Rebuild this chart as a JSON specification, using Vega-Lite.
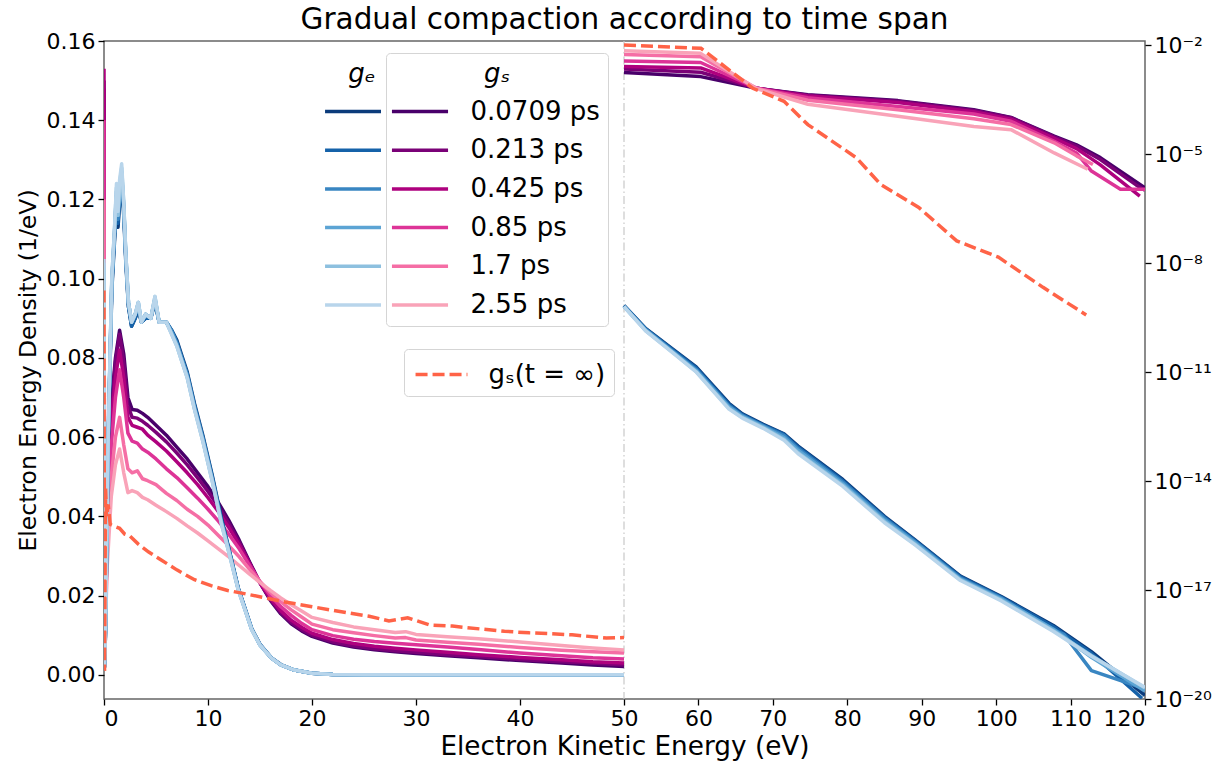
{
"$schema":"https://vega.github.io/schema/vega-lite/v6.json",
"width":1041,"height":658,
"autosize":{"type":"none"},
"padding":{"left":104,"top":41,"right":76,"bottom":67},
"background":"white",
"title":{"text":"Gradual compaction according to time span","fontSize":29.5,"font":"DejaVu Sans","fontWeight":"normal","color":"black","anchor":"middle","frame":"group","offset":-5},
"config":{
 "font":"DejaVu Sans",
 "view":{"stroke":"#666666","strokeWidth":1.5},
 "axis":{"domain":false,"grid":false,"ticks":true,"tickColor":"black","tickSize":6,"tickWidth":1.3,"labelFont":"DejaVu Sans","labelFontSize":22,"labelColor":"black","titleFont":"DejaVu Sans","titleFontSize":23.5,"titleFontWeight":"normal","titleColor":"black","labelPadding":3},
 "legend":{"labelFont":"DejaVu Sans","titleFont":"DejaVu Sans","labelColor":"black","titleColor":"black"}
},
"datasets":{
"gsL":[
{"s":"0.0709 ps","x":0,"v":0.150},{"s":"0.0709 ps","x":0.05,"v":0.003},{"s":"0.0709 ps","x":0.3,"v":0.040},{"s":"0.0709 ps","x":0.7,"v":0.068},{"s":"0.0709 ps","x":1.1,"v":0.080},{"s":"0.0709 ps","x":1.5,"v":0.087},{"s":"0.0709 ps","x":1.9,"v":0.081},{"s":"0.0709 ps","x":2.3,"v":0.070},{"s":"0.0709 ps","x":2.7,"v":0.067},{"s":"0.0709 ps","x":3.2,"v":0.0668},{"s":"0.0709 ps","x":3.7,"v":0.066},{"s":"0.0709 ps","x":4.2,"v":0.065},{"s":"0.0709 ps","x":5,"v":0.063},{"s":"0.0709 ps","x":6,"v":0.0605},{"s":"0.0709 ps","x":7,"v":0.0575},{"s":"0.0709 ps","x":8,"v":0.0545},{"s":"0.0709 ps","x":9,"v":0.051},{"s":"0.0709 ps","x":10,"v":0.0475},{"s":"0.0709 ps","x":11,"v":0.0435},{"s":"0.0709 ps","x":12,"v":0.039},{"s":"0.0709 ps","x":13,"v":0.034},{"s":"0.0709 ps","x":14,"v":0.0285},{"s":"0.0709 ps","x":15,"v":0.0232},{"s":"0.0709 ps","x":16,"v":0.0188},{"s":"0.0709 ps","x":17,"v":0.0154},{"s":"0.0709 ps","x":18,"v":0.0129},{"s":"0.0709 ps","x":19,"v":0.0111},{"s":"0.0709 ps","x":20,"v":0.0097},{"s":"0.0709 ps","x":22,"v":0.0080},{"s":"0.0709 ps","x":24,"v":0.0070},{"s":"0.0709 ps","x":26,"v":0.0063},{"s":"0.0709 ps","x":28,"v":0.0058},{"s":"0.0709 ps","x":30,"v":0.0054},{"s":"0.0709 ps","x":33,"v":0.0048},{"s":"0.0709 ps","x":36,"v":0.0043},{"s":"0.0709 ps","x":40,"v":0.0036},{"s":"0.0709 ps","x":44,"v":0.0030},{"s":"0.0709 ps","x":47,"v":0.0025},{"s":"0.0709 ps","x":50,"v":0.0021},
{"s":"0.213 ps","x":0,"v":0.148},{"s":"0.213 ps","x":0.05,"v":0.003},{"s":"0.213 ps","x":0.3,"v":0.039},{"s":"0.213 ps","x":0.7,"v":0.066},{"s":"0.213 ps","x":1.1,"v":0.079},{"s":"0.213 ps","x":1.5,"v":0.086},{"s":"0.213 ps","x":1.9,"v":0.079},{"s":"0.213 ps","x":2.3,"v":0.068},{"s":"0.213 ps","x":2.7,"v":0.065},{"s":"0.213 ps","x":3.2,"v":0.0648},{"s":"0.213 ps","x":3.7,"v":0.064},{"s":"0.213 ps","x":4.2,"v":0.063},{"s":"0.213 ps","x":5,"v":0.0612},{"s":"0.213 ps","x":6,"v":0.0588},{"s":"0.213 ps","x":7,"v":0.056},{"s":"0.213 ps","x":8,"v":0.053},{"s":"0.213 ps","x":9,"v":0.0497},{"s":"0.213 ps","x":10,"v":0.0463},{"s":"0.213 ps","x":11,"v":0.0425},{"s":"0.213 ps","x":12,"v":0.0382},{"s":"0.213 ps","x":13,"v":0.0335},{"s":"0.213 ps","x":14,"v":0.0283},{"s":"0.213 ps","x":15,"v":0.0232},{"s":"0.213 ps","x":16,"v":0.019},{"s":"0.213 ps","x":17,"v":0.0157},{"s":"0.213 ps","x":18,"v":0.0132},{"s":"0.213 ps","x":19,"v":0.0114},{"s":"0.213 ps","x":20,"v":0.0100},{"s":"0.213 ps","x":22,"v":0.0083},{"s":"0.213 ps","x":24,"v":0.0073},{"s":"0.213 ps","x":26,"v":0.0066},{"s":"0.213 ps","x":28,"v":0.0061},{"s":"0.213 ps","x":30,"v":0.0057},{"s":"0.213 ps","x":33,"v":0.0051},{"s":"0.213 ps","x":36,"v":0.0046},{"s":"0.213 ps","x":40,"v":0.0039},{"s":"0.213 ps","x":44,"v":0.0033},{"s":"0.213 ps","x":47,"v":0.0029},{"s":"0.213 ps","x":50,"v":0.0025},
{"s":"0.425 ps","x":0,"v":0.153},{"s":"0.425 ps","x":0.05,"v":0.003},{"s":"0.425 ps","x":0.3,"v":0.037},{"s":"0.425 ps","x":0.7,"v":0.063},{"s":"0.425 ps","x":1.1,"v":0.075},{"s":"0.425 ps","x":1.5,"v":0.082},{"s":"0.425 ps","x":1.9,"v":0.075},{"s":"0.425 ps","x":2.3,"v":0.065},{"s":"0.425 ps","x":2.7,"v":0.063},{"s":"0.425 ps","x":3.2,"v":0.0625},{"s":"0.425 ps","x":3.7,"v":0.062},{"s":"0.425 ps","x":4.2,"v":0.0605},{"s":"0.425 ps","x":5,"v":0.0588},{"s":"0.425 ps","x":6,"v":0.0565},{"s":"0.425 ps","x":7,"v":0.0538},{"s":"0.425 ps","x":8,"v":0.051},{"s":"0.425 ps","x":9,"v":0.048},{"s":"0.425 ps","x":10,"v":0.0447},{"s":"0.425 ps","x":11,"v":0.0412},{"s":"0.425 ps","x":12,"v":0.0372},{"s":"0.425 ps","x":13,"v":0.0328},{"s":"0.425 ps","x":14,"v":0.0280},{"s":"0.425 ps","x":15,"v":0.0232},{"s":"0.425 ps","x":16,"v":0.0193},{"s":"0.425 ps","x":17,"v":0.0162},{"s":"0.425 ps","x":18,"v":0.0138},{"s":"0.425 ps","x":19,"v":0.0120},{"s":"0.425 ps","x":20,"v":0.0105},{"s":"0.425 ps","x":22,"v":0.0089},{"s":"0.425 ps","x":24,"v":0.0079},{"s":"0.425 ps","x":26,"v":0.0072},{"s":"0.425 ps","x":28,"v":0.0067},{"s":"0.425 ps","x":30,"v":0.0063},{"s":"0.425 ps","x":33,"v":0.0057},{"s":"0.425 ps","x":36,"v":0.0051},{"s":"0.425 ps","x":40,"v":0.0044},{"s":"0.425 ps","x":44,"v":0.0038},{"s":"0.425 ps","x":47,"v":0.0033},{"s":"0.425 ps","x":50,"v":0.0030},
{"s":"0.85 ps","x":0,"v":0.140},{"s":"0.85 ps","x":0.05,"v":0.003},{"s":"0.85 ps","x":0.3,"v":0.035},{"s":"0.85 ps","x":0.7,"v":0.058},{"s":"0.85 ps","x":1.1,"v":0.070},{"s":"0.85 ps","x":1.5,"v":0.077},{"s":"0.85 ps","x":1.9,"v":0.070},{"s":"0.85 ps","x":2.3,"v":0.061},{"s":"0.85 ps","x":2.7,"v":0.059},{"s":"0.85 ps","x":3.2,"v":0.0585},{"s":"0.85 ps","x":3.7,"v":0.057},{"s":"0.85 ps","x":4.2,"v":0.0562},{"s":"0.85 ps","x":5,"v":0.0545},{"s":"0.85 ps","x":6,"v":0.052},{"s":"0.85 ps","x":7,"v":0.0498},{"s":"0.85 ps","x":8,"v":0.0472},{"s":"0.85 ps","x":9,"v":0.0446},{"s":"0.85 ps","x":10,"v":0.0418},{"s":"0.85 ps","x":11,"v":0.0388},{"s":"0.85 ps","x":12,"v":0.0355},{"s":"0.85 ps","x":13,"v":0.0318},{"s":"0.85 ps","x":14,"v":0.0276},{"s":"0.85 ps","x":15,"v":0.0235},{"s":"0.85 ps","x":16,"v":0.0200},{"s":"0.85 ps","x":17,"v":0.0172},{"s":"0.85 ps","x":18,"v":0.0150},{"s":"0.85 ps","x":19,"v":0.0130},{"s":"0.85 ps","x":20,"v":0.0114},{"s":"0.85 ps","x":22,"v":0.0099},{"s":"0.85 ps","x":24,"v":0.0090},{"s":"0.85 ps","x":26,"v":0.0084},{"s":"0.85 ps","x":28,"v":0.0080},{"s":"0.85 ps","x":30,"v":0.0076},{"s":"0.85 ps","x":33,"v":0.0070},{"s":"0.85 ps","x":36,"v":0.0064},{"s":"0.85 ps","x":40,"v":0.0055},{"s":"0.85 ps","x":44,"v":0.0048},{"s":"0.85 ps","x":47,"v":0.0043},{"s":"0.85 ps","x":50,"v":0.0040},
{"s":"1.7 ps","x":0,"v":0.120},{"s":"1.7 ps","x":0.05,"v":0.003},{"s":"1.7 ps","x":0.3,"v":0.030},{"s":"1.7 ps","x":0.7,"v":0.050},{"s":"1.7 ps","x":1.1,"v":0.060},{"s":"1.7 ps","x":1.5,"v":0.065},{"s":"1.7 ps","x":1.9,"v":0.058},{"s":"1.7 ps","x":2.3,"v":0.052},{"s":"1.7 ps","x":2.7,"v":0.051},{"s":"1.7 ps","x":3.2,"v":0.0515},{"s":"1.7 ps","x":3.7,"v":0.0495},{"s":"1.7 ps","x":4.2,"v":0.049},{"s":"1.7 ps","x":5,"v":0.048},{"s":"1.7 ps","x":6,"v":0.0458},{"s":"1.7 ps","x":7,"v":0.0440},{"s":"1.7 ps","x":8,"v":0.0418},{"s":"1.7 ps","x":9,"v":0.0400},{"s":"1.7 ps","x":10,"v":0.0378},{"s":"1.7 ps","x":11,"v":0.0352},{"s":"1.7 ps","x":12,"v":0.0326},{"s":"1.7 ps","x":13,"v":0.0298},{"s":"1.7 ps","x":14,"v":0.0266},{"s":"1.7 ps","x":15,"v":0.0236},{"s":"1.7 ps","x":16,"v":0.0208},{"s":"1.7 ps","x":17,"v":0.0184},{"s":"1.7 ps","x":18,"v":0.0164},{"s":"1.7 ps","x":19,"v":0.0146},{"s":"1.7 ps","x":20,"v":0.0128},{"s":"1.7 ps","x":22,"v":0.0114},{"s":"1.7 ps","x":24,"v":0.0106},{"s":"1.7 ps","x":26,"v":0.0099},{"s":"1.7 ps","x":28,"v":0.0093},{"s":"1.7 ps","x":29,"v":0.0094},{"s":"1.7 ps","x":30,"v":0.0088},{"s":"1.7 ps","x":33,"v":0.0082},{"s":"1.7 ps","x":36,"v":0.0077},{"s":"1.7 ps","x":40,"v":0.0069},{"s":"1.7 ps","x":44,"v":0.0062},{"s":"1.7 ps","x":47,"v":0.0058},{"s":"1.7 ps","x":50,"v":0.0055},
{"s":"2.55 ps","x":0,"v":0.100},{"s":"2.55 ps","x":0.05,"v":0.003},{"s":"2.55 ps","x":0.3,"v":0.027},{"s":"2.55 ps","x":0.7,"v":0.045},{"s":"2.55 ps","x":1.1,"v":0.053},{"s":"2.55 ps","x":1.5,"v":0.057},{"s":"2.55 ps","x":1.9,"v":0.051},{"s":"2.55 ps","x":2.3,"v":0.046},{"s":"2.55 ps","x":2.7,"v":0.0465},{"s":"2.55 ps","x":3.2,"v":0.046},{"s":"2.55 ps","x":3.7,"v":0.0448},{"s":"2.55 ps","x":4.2,"v":0.0442},{"s":"2.55 ps","x":5,"v":0.0428},{"s":"2.55 ps","x":6,"v":0.0412},{"s":"2.55 ps","x":7,"v":0.0395},{"s":"2.55 ps","x":8,"v":0.0376},{"s":"2.55 ps","x":9,"v":0.0358},{"s":"2.55 ps","x":10,"v":0.0338},{"s":"2.55 ps","x":11,"v":0.0318},{"s":"2.55 ps","x":12,"v":0.0298},{"s":"2.55 ps","x":13,"v":0.0276},{"s":"2.55 ps","x":14,"v":0.0254},{"s":"2.55 ps","x":15,"v":0.0233},{"s":"2.55 ps","x":16,"v":0.0213},{"s":"2.55 ps","x":17,"v":0.0194},{"s":"2.55 ps","x":18,"v":0.0177},{"s":"2.55 ps","x":19,"v":0.0161},{"s":"2.55 ps","x":20,"v":0.0145},{"s":"2.55 ps","x":22,"v":0.0132},{"s":"2.55 ps","x":24,"v":0.0121},{"s":"2.55 ps","x":26,"v":0.0114},{"s":"2.55 ps","x":28,"v":0.0107},{"s":"2.55 ps","x":29,"v":0.0109},{"s":"2.55 ps","x":30,"v":0.0102},{"s":"2.55 ps","x":33,"v":0.0096},{"s":"2.55 ps","x":36,"v":0.0091},{"s":"2.55 ps","x":40,"v":0.0083},{"s":"2.55 ps","x":44,"v":0.0074},{"s":"2.55 ps","x":47,"v":0.0068},{"s":"2.55 ps","x":50,"v":0.0063}
],
"geL":[
{"s":"t1","x":0,"v":0.100},{"s":"t1","x":0.05,"v":0.002},{"s":"t1","x":0.15,"v":0.011},{"s":"t1","x":0.4,"v":0.058},{"s":"t1","x":0.75,"v":0.097},{"s":"t1","x":1.0,"v":0.109},{"s":"t1","x":1.2,"v":0.118},{"s":"t1","x":1.35,"v":0.113},{"s":"t1","x":1.5,"v":0.119},{"s":"t1","x":1.7,"v":0.124},{"s":"t1","x":1.9,"v":0.116},{"s":"t1","x":2.1,"v":0.104},{"s":"t1","x":2.35,"v":0.093},{"s":"t1","x":2.65,"v":0.088},{"s":"t1","x":3.0,"v":0.090},{"s":"t1","x":3.3,"v":0.092},{"s":"t1","x":3.6,"v":0.089},{"s":"t1","x":4.0,"v":0.090},{"s":"t1","x":4.5,"v":0.090},{"s":"t1","x":4.9,"v":0.094},{"s":"t1","x":5.3,"v":0.089},{"s":"t1","x":6.0,"v":0.089},{"s":"t1","x":6.5,"v":0.087},{"s":"t1","x":7.0,"v":0.0845},{"s":"t1","x":7.5,"v":0.0805},{"s":"t1","x":8.0,"v":0.0765},{"s":"t1","x":8.7,"v":0.0685},{"s":"t1","x":9.5,"v":0.0605},{"s":"t1","x":10.4,"v":0.0505},{"s":"t1","x":11.3,"v":0.0395},{"s":"t1","x":12.0,"v":0.032},{"s":"t1","x":12.9,"v":0.022},{"s":"t1","x":14.2,"v":0.0117},{"s":"t1","x":15.0,"v":0.0077},{"s":"t1","x":16.1,"v":0.0043},{"s":"t1","x":17.0,"v":0.0026},{"s":"t1","x":18.3,"v":0.0012},{"s":"t1","x":20,"v":0.0004},{"s":"t1","x":22,"v":0.0001},{"s":"t1","x":25,"v":0},{"s":"t1","x":50,"v":0},
{"s":"t2","x":0,"v":0.101},{"s":"t2","x":0.05,"v":0.002},{"s":"t2","x":0.15,"v":0.011},{"s":"t2","x":0.4,"v":0.058},{"s":"t2","x":0.75,"v":0.098},{"s":"t2","x":1.0,"v":0.110},{"s":"t2","x":1.2,"v":0.120},{"s":"t2","x":1.35,"v":0.114},{"s":"t2","x":1.5,"v":0.121},{"s":"t2","x":1.7,"v":0.125},{"s":"t2","x":1.9,"v":0.117},{"s":"t2","x":2.1,"v":0.105},{"s":"t2","x":2.35,"v":0.093},{"s":"t2","x":2.65,"v":0.088},{"s":"t2","x":3.0,"v":0.090},{"s":"t2","x":3.3,"v":0.093},{"s":"t2","x":3.6,"v":0.089},{"s":"t2","x":4.0,"v":0.090},{"s":"t2","x":4.5,"v":0.090},{"s":"t2","x":4.9,"v":0.0945},{"s":"t2","x":5.3,"v":0.089},{"s":"t2","x":6.0,"v":0.089},{"s":"t2","x":6.5,"v":0.087},{"s":"t2","x":7.0,"v":0.084},{"s":"t2","x":7.5,"v":0.080},{"s":"t2","x":8.0,"v":0.076},{"s":"t2","x":8.7,"v":0.068},{"s":"t2","x":9.5,"v":0.060},{"s":"t2","x":10.4,"v":0.050},{"s":"t2","x":11.3,"v":0.039},{"s":"t2","x":12.0,"v":0.0318},{"s":"t2","x":12.9,"v":0.0219},{"s":"t2","x":14.2,"v":0.0116},{"s":"t2","x":15.0,"v":0.0076},{"s":"t2","x":16.1,"v":0.0043},{"s":"t2","x":17.0,"v":0.0025},{"s":"t2","x":18.3,"v":0.0012},{"s":"t2","x":20,"v":0.0004},{"s":"t2","x":22,"v":0.0001},{"s":"t2","x":25,"v":0},{"s":"t2","x":50,"v":0},
{"s":"t3","x":0,"v":0.102},{"s":"t3","x":0.05,"v":0.002},{"s":"t3","x":0.15,"v":0.012},{"s":"t3","x":0.4,"v":0.059},{"s":"t3","x":0.75,"v":0.099},{"s":"t3","x":1.0,"v":0.111},{"s":"t3","x":1.2,"v":0.121},{"s":"t3","x":1.35,"v":0.115},{"s":"t3","x":1.5,"v":0.122},{"s":"t3","x":1.7,"v":0.126},{"s":"t3","x":1.9,"v":0.118},{"s":"t3","x":2.1,"v":0.105},{"s":"t3","x":2.35,"v":0.094},{"s":"t3","x":2.65,"v":0.089},{"s":"t3","x":3.0,"v":0.091},{"s":"t3","x":3.3,"v":0.093},{"s":"t3","x":3.6,"v":0.089},{"s":"t3","x":4.0,"v":0.091},{"s":"t3","x":4.5,"v":0.090},{"s":"t3","x":4.9,"v":0.095},{"s":"t3","x":5.3,"v":0.089},{"s":"t3","x":6.0,"v":0.089},{"s":"t3","x":6.5,"v":0.0868},{"s":"t3","x":7.0,"v":0.0838},{"s":"t3","x":7.5,"v":0.0798},{"s":"t3","x":8.0,"v":0.0758},{"s":"t3","x":8.7,"v":0.0678},{"s":"t3","x":9.5,"v":0.0598},{"s":"t3","x":10.4,"v":0.0498},{"s":"t3","x":11.3,"v":0.0388},{"s":"t3","x":12.0,"v":0.0316},{"s":"t3","x":12.9,"v":0.0218},{"s":"t3","x":14.2,"v":0.0115},{"s":"t3","x":15.0,"v":0.0076},{"s":"t3","x":16.1,"v":0.0042},{"s":"t3","x":17.0,"v":0.0025},{"s":"t3","x":18.3,"v":0.0012},{"s":"t3","x":20,"v":0.0004},{"s":"t3","x":22,"v":0.0001},{"s":"t3","x":25,"v":0},{"s":"t3","x":50,"v":0},
{"s":"t4","x":0,"v":0.103},{"s":"t4","x":0.05,"v":0.002},{"s":"t4","x":0.15,"v":0.012},{"s":"t4","x":0.4,"v":0.059},{"s":"t4","x":0.75,"v":0.099},{"s":"t4","x":1.0,"v":0.111},{"s":"t4","x":1.2,"v":0.122},{"s":"t4","x":1.35,"v":0.116},{"s":"t4","x":1.5,"v":0.123},{"s":"t4","x":1.7,"v":0.127},{"s":"t4","x":1.9,"v":0.118},{"s":"t4","x":2.1,"v":0.106},{"s":"t4","x":2.35,"v":0.094},{"s":"t4","x":2.65,"v":0.089},{"s":"t4","x":3.0,"v":0.091},{"s":"t4","x":3.3,"v":0.094},{"s":"t4","x":3.6,"v":0.089},{"s":"t4","x":4.0,"v":0.091},{"s":"t4","x":4.5,"v":0.090},{"s":"t4","x":4.9,"v":0.095},{"s":"t4","x":5.3,"v":0.089},{"s":"t4","x":6.0,"v":0.089},{"s":"t4","x":6.5,"v":0.0864},{"s":"t4","x":7.0,"v":0.0834},{"s":"t4","x":7.5,"v":0.0794},{"s":"t4","x":8.0,"v":0.0754},{"s":"t4","x":8.7,"v":0.0674},{"s":"t4","x":9.5,"v":0.0594},{"s":"t4","x":10.4,"v":0.0494},{"s":"t4","x":11.3,"v":0.0384},{"s":"t4","x":12.0,"v":0.0313},{"s":"t4","x":12.9,"v":0.0217},{"s":"t4","x":14.2,"v":0.0115},{"s":"t4","x":15.0,"v":0.0075},{"s":"t4","x":16.1,"v":0.0042},{"s":"t4","x":17.0,"v":0.0025},{"s":"t4","x":18.3,"v":0.0012},{"s":"t4","x":20,"v":0.0004},{"s":"t4","x":22,"v":0.0001},{"s":"t4","x":25,"v":0},{"s":"t4","x":50,"v":0},
{"s":"t5","x":0,"v":0.104},{"s":"t5","x":0.05,"v":0.002},{"s":"t5","x":0.15,"v":0.012},{"s":"t5","x":0.4,"v":0.06},{"s":"t5","x":0.75,"v":0.1},{"s":"t5","x":1.0,"v":0.112},{"s":"t5","x":1.2,"v":0.123},{"s":"t5","x":1.35,"v":0.116},{"s":"t5","x":1.5,"v":0.124},{"s":"t5","x":1.7,"v":0.128},{"s":"t5","x":1.9,"v":0.119},{"s":"t5","x":2.1,"v":0.106},{"s":"t5","x":2.35,"v":0.094},{"s":"t5","x":2.65,"v":0.089},{"s":"t5","x":3.0,"v":0.091},{"s":"t5","x":3.3,"v":0.094},{"s":"t5","x":3.6,"v":0.089},{"s":"t5","x":4.0,"v":0.091},{"s":"t5","x":4.5,"v":0.090},{"s":"t5","x":4.9,"v":0.0955},{"s":"t5","x":5.3,"v":0.089},{"s":"t5","x":6.0,"v":0.089},{"s":"t5","x":6.5,"v":0.086},{"s":"t5","x":7.0,"v":0.083},{"s":"t5","x":7.5,"v":0.079},{"s":"t5","x":8.0,"v":0.075},{"s":"t5","x":8.7,"v":0.067},{"s":"t5","x":9.5,"v":0.059},{"s":"t5","x":10.4,"v":0.049},{"s":"t5","x":11.3,"v":0.038},{"s":"t5","x":12.0,"v":0.031},{"s":"t5","x":12.9,"v":0.0215},{"s":"t5","x":14.2,"v":0.0114},{"s":"t5","x":15.0,"v":0.0075},{"s":"t5","x":16.1,"v":0.0042},{"s":"t5","x":17.0,"v":0.0025},{"s":"t5","x":18.3,"v":0.0012},{"s":"t5","x":20,"v":0.0004},{"s":"t5","x":22,"v":0.0001},{"s":"t5","x":25,"v":0},{"s":"t5","x":50,"v":0},
{"s":"t6","x":0,"v":0.105},{"s":"t6","x":0.05,"v":0.002},{"s":"t6","x":0.15,"v":0.012},{"s":"t6","x":0.4,"v":0.06},{"s":"t6","x":0.75,"v":0.1},{"s":"t6","x":1.0,"v":0.112},{"s":"t6","x":1.2,"v":0.124},{"s":"t6","x":1.35,"v":0.117},{"s":"t6","x":1.5,"v":0.125},{"s":"t6","x":1.7,"v":0.129},{"s":"t6","x":1.9,"v":0.119},{"s":"t6","x":2.1,"v":0.106},{"s":"t6","x":2.35,"v":0.094},{"s":"t6","x":2.65,"v":0.089},{"s":"t6","x":3.0,"v":0.091},{"s":"t6","x":3.3,"v":0.094},{"s":"t6","x":3.6,"v":0.089},{"s":"t6","x":4.0,"v":0.091},{"s":"t6","x":4.5,"v":0.090},{"s":"t6","x":4.9,"v":0.0955},{"s":"t6","x":5.3,"v":0.089},{"s":"t6","x":6.0,"v":0.089},{"s":"t6","x":6.5,"v":0.086},{"s":"t6","x":7.0,"v":0.083},{"s":"t6","x":7.5,"v":0.079},{"s":"t6","x":8.0,"v":0.075},{"s":"t6","x":8.7,"v":0.067},{"s":"t6","x":9.5,"v":0.059},{"s":"t6","x":10.4,"v":0.049},{"s":"t6","x":11.3,"v":0.038},{"s":"t6","x":12.0,"v":0.031},{"s":"t6","x":12.9,"v":0.0215},{"s":"t6","x":14.2,"v":0.0114},{"s":"t6","x":15.0,"v":0.0075},{"s":"t6","x":16.1,"v":0.0042},{"s":"t6","x":17.0,"v":0.0025},{"s":"t6","x":18.3,"v":0.0012},{"s":"t6","x":20,"v":0.0004},{"s":"t6","x":22,"v":0.0001},{"s":"t6","x":25,"v":0},{"s":"t6","x":50,"v":0}
],
"infL":[
{"s":"gₛ(t = ∞)","x":0,"v":0.097},{"s":"gₛ(t = ∞)","x":0.05,"v":0.001},{"s":"gₛ(t = ∞)","x":0.15,"v":0.047},{"s":"gₛ(t = ∞)","x":0.25,"v":0.040},{"s":"gₛ(t = ∞)","x":0.4,"v":0.043},{"s":"gₛ(t = ∞)","x":0.6,"v":0.038},{"s":"gₛ(t = ∞)","x":1.0,"v":0.0375},{"s":"gₛ(t = ∞)","x":1.5,"v":0.037},{"s":"gₛ(t = ∞)","x":2.0,"v":0.0355},{"s":"gₛ(t = ∞)","x":2.5,"v":0.035},{"s":"gₛ(t = ∞)","x":3.3,"v":0.033},{"s":"gₛ(t = ∞)","x":4.3,"v":0.031},{"s":"gₛ(t = ∞)","x":5.5,"v":0.029},{"s":"gₛ(t = ∞)","x":7.0,"v":0.0265},{"s":"gₛ(t = ∞)","x":8.7,"v":0.024},{"s":"gₛ(t = ∞)","x":10.3,"v":0.0225},{"s":"gₛ(t = ∞)","x":11.9,"v":0.0213},{"s":"gₛ(t = ∞)","x":13.5,"v":0.0205},{"s":"gₛ(t = ∞)","x":15.2,"v":0.0196},{"s":"gₛ(t = ∞)","x":17.4,"v":0.0184},{"s":"gₛ(t = ∞)","x":20,"v":0.0172},{"s":"gₛ(t = ∞)","x":23.3,"v":0.0157},{"s":"gₛ(t = ∞)","x":25.5,"v":0.0148},{"s":"gₛ(t = ∞)","x":27.4,"v":0.0136},{"s":"gₛ(t = ∞)","x":29.2,"v":0.0144},{"s":"gₛ(t = ∞)","x":31.3,"v":0.0126},{"s":"gₛ(t = ∞)","x":33.5,"v":0.0123},{"s":"gₛ(t = ∞)","x":36.1,"v":0.0116},{"s":"gₛ(t = ∞)","x":38.5,"v":0.011},{"s":"gₛ(t = ∞)","x":40.9,"v":0.0106},{"s":"gₛ(t = ∞)","x":43,"v":0.0104},{"s":"gₛ(t = ∞)","x":45,"v":0.0101},{"s":"gₛ(t = ∞)","x":48.3,"v":0.0093},{"s":"gₛ(t = ∞)","x":50,"v":0.0094}
],
"gsR":[
{"s":"0.0709 ps","x":50,"v":1.74e-3},{"s":"0.0709 ps","x":60.3,"v":1.35e-3},{"s":"0.0709 ps","x":67.8,"v":6.46e-4},{"s":"0.0709 ps","x":74.7,"v":4.27e-4},{"s":"0.0709 ps","x":86.8,"v":2.95e-4},{"s":"0.0709 ps","x":97,"v":1.66e-4},{"s":"0.0709 ps","x":102,"v":1.02e-4},{"s":"0.0709 ps","x":107.8,"v":3.09e-5},{"s":"0.0709 ps","x":110.8,"v":1.78e-5},{"s":"0.0709 ps","x":114,"v":7.94e-6},{"s":"0.0709 ps","x":120,"v":1.17e-6},
{"s":"0.213 ps","x":50,"v":2.19e-3},{"s":"0.213 ps","x":60.3,"v":1.78e-3},{"s":"0.213 ps","x":67.8,"v":6.46e-4},{"s":"0.213 ps","x":74.7,"v":4.17e-4},{"s":"0.213 ps","x":86.8,"v":2.82e-4},{"s":"0.213 ps","x":97,"v":1.58e-4},{"s":"0.213 ps","x":102,"v":1.0e-4},{"s":"0.213 ps","x":107.8,"v":2.95e-5},{"s":"0.213 ps","x":110.8,"v":1.66e-5},{"s":"0.213 ps","x":114,"v":7.08e-6},{"s":"0.213 ps","x":118.8,"v":1.41e-6},{"s":"0.213 ps","x":120,"v":1.0e-6},
{"s":"0.425 ps","x":50,"v":2.57e-3},{"s":"0.425 ps","x":60.3,"v":2.34e-3},{"s":"0.425 ps","x":67.8,"v":6.46e-4},{"s":"0.425 ps","x":74.7,"v":3.98e-4},{"s":"0.425 ps","x":86.8,"v":2.63e-4},{"s":"0.425 ps","x":97,"v":1.45e-4},{"s":"0.425 ps","x":102,"v":9.12e-5},{"s":"0.425 ps","x":107.8,"v":2.69e-5},{"s":"0.425 ps","x":110.8,"v":1.41e-5},{"s":"0.425 ps","x":114,"v":5.01e-6},{"s":"0.425 ps","x":119.3,"v":6.92e-7},
{"s":"0.85 ps","x":50,"v":3.63e-3},{"s":"0.85 ps","x":60.3,"v":3.31e-3},{"s":"0.85 ps","x":67.8,"v":6.46e-4},{"s":"0.85 ps","x":74.7,"v":3.55e-4},{"s":"0.85 ps","x":86.8,"v":2.04e-4},{"s":"0.85 ps","x":97,"v":1.26e-4},{"s":"0.85 ps","x":102,"v":7.94e-5},{"s":"0.85 ps","x":107.8,"v":2.24e-5},{"s":"0.85 ps","x":110.8,"v":1.07e-5},{"s":"0.85 ps","x":112.8,"v":3.39e-6},{"s":"0.85 ps","x":116.7,"v":1.07e-6},{"s":"0.85 ps","x":120,"v":1.07e-6},
{"s":"1.7 ps","x":50,"v":5.50e-3},{"s":"1.7 ps","x":60.3,"v":4.79e-3},{"s":"1.7 ps","x":67.8,"v":6.46e-4},{"s":"1.7 ps","x":74.7,"v":3.02e-4},{"s":"1.7 ps","x":86.8,"v":1.66e-4},{"s":"1.7 ps","x":97,"v":9.33e-5},{"s":"1.7 ps","x":102,"v":6.46e-5},{"s":"1.7 ps","x":107.8,"v":2.04e-5},{"s":"1.7 ps","x":110.8,"v":8.91e-6},{"s":"1.7 ps","x":113,"v":5.13e-6},
{"s":"2.55 ps","x":50,"v":6.92e-3},{"s":"2.55 ps","x":60.3,"v":5.89e-3},{"s":"2.55 ps","x":67.8,"v":6.31e-4},{"s":"2.55 ps","x":74.7,"v":2.34e-4},{"s":"2.55 ps","x":86.8,"v":1.10e-4},{"s":"2.55 ps","x":97,"v":5.75e-5},{"s":"2.55 ps","x":102,"v":4.68e-5},{"s":"2.55 ps","x":107.8,"v":1.07e-5},{"s":"2.55 ps","x":112.3,"v":3.80e-6}
],
"geR":[
{"s":"t1","x":50,"v":6.76e-10},{"s":"t1","x":52.9,"v":1.585e-10},{"s":"t1","x":56.6,"v":4.17e-11},{"s":"t1","x":59.7,"v":1.38e-11},{"s":"t1","x":64.1,"v":1.38e-12},{"s":"t1","x":65.9,"v":7.08e-13},{"s":"t1","x":68.7,"v":3.63e-13},{"s":"t1","x":71.5,"v":2.0e-13},{"s":"t1","x":73.4,"v":9.12e-14},{"s":"t1","x":79.4,"v":1.10e-14},{"s":"t1","x":85.0,"v":1.07e-15},{"s":"t1","x":89.1,"v":2.40e-16},{"s":"t1","x":95.2,"v":2.40e-17},{"s":"t1","x":100.7,"v":6.61e-18},{"s":"t1","x":107.7,"v":1.05e-18},{"s":"t1","x":112.8,"v":2.0e-19},{"s":"t1","x":120,"v":1.26e-20},
{"s":"t2","x":50,"v":6.61e-10},{"s":"t2","x":52.9,"v":1.55e-10},{"s":"t2","x":56.6,"v":3.98e-11},{"s":"t2","x":59.7,"v":1.29e-11},{"s":"t2","x":64.1,"v":1.29e-12},{"s":"t2","x":65.9,"v":6.76e-13},{"s":"t2","x":68.7,"v":3.47e-13},{"s":"t2","x":71.5,"v":1.91e-13},{"s":"t2","x":73.4,"v":8.51e-14},{"s":"t2","x":79.4,"v":1.02e-14},{"s":"t2","x":85.0,"v":1.0e-15},{"s":"t2","x":89.1,"v":2.29e-16},{"s":"t2","x":95.2,"v":2.29e-17},{"s":"t2","x":100.7,"v":6.31e-18},{"s":"t2","x":107.7,"v":9.77e-19},{"s":"t2","x":112.8,"v":1.82e-19},{"s":"t2","x":119.6,"v":1.05e-20},
{"s":"t3","x":50,"v":6.46e-10},{"s":"t3","x":52.9,"v":1.48e-10},{"s":"t3","x":56.6,"v":3.72e-11},{"s":"t3","x":59.7,"v":1.17e-11},{"s":"t3","x":64.1,"v":1.17e-12},{"s":"t3","x":65.9,"v":6.31e-13},{"s":"t3","x":68.7,"v":3.31e-13},{"s":"t3","x":71.5,"v":1.78e-13},{"s":"t3","x":73.4,"v":7.76e-14},{"s":"t3","x":79.4,"v":9.33e-15},{"s":"t3","x":85.0,"v":9.33e-16},{"s":"t3","x":89.1,"v":2.14e-16},{"s":"t3","x":95.2,"v":2.14e-17},{"s":"t3","x":100.7,"v":6.03e-18},{"s":"t3","x":107.7,"v":7.94e-19},{"s":"t3","x":109.1,"v":6.03e-19},{"s":"t3","x":112.8,"v":6.03e-20},{"s":"t3","x":120,"v":1.91e-20},
{"s":"t4","x":50,"v":6.46e-10},{"s":"t4","x":52.9,"v":1.45e-10},{"s":"t4","x":56.6,"v":3.55e-11},{"s":"t4","x":59.7,"v":1.10e-11},{"s":"t4","x":64.1,"v":1.10e-12},{"s":"t4","x":65.9,"v":6.03e-13},{"s":"t4","x":68.7,"v":3.16e-13},{"s":"t4","x":71.5,"v":1.58e-13},{"s":"t4","x":73.4,"v":6.92e-14},{"s":"t4","x":79.4,"v":8.32e-15},{"s":"t4","x":85.0,"v":8.32e-16},{"s":"t4","x":89.1,"v":2.0e-16},{"s":"t4","x":95.2,"v":2.0e-17},{"s":"t4","x":100.7,"v":5.62e-18},{"s":"t4","x":107.7,"v":8.32e-19},{"s":"t4","x":112.8,"v":1.41e-19},{"s":"t4","x":120,"v":1.66e-20},
{"s":"t5","x":50,"v":6.31e-10},{"s":"t5","x":52.9,"v":1.38e-10},{"s":"t5","x":56.6,"v":3.39e-11},{"s":"t5","x":59.7,"v":1.02e-11},{"s":"t5","x":64.1,"v":1.0e-12},{"s":"t5","x":65.9,"v":5.62e-13},{"s":"t5","x":68.7,"v":2.95e-13},{"s":"t5","x":71.5,"v":1.41e-13},{"s":"t5","x":73.4,"v":6.03e-14},{"s":"t5","x":79.4,"v":7.59e-15},{"s":"t5","x":85.0,"v":7.59e-16},{"s":"t5","x":89.1,"v":1.82e-16},{"s":"t5","x":95.2,"v":1.91e-17},{"s":"t5","x":100.7,"v":5.25e-18},{"s":"t5","x":107.7,"v":7.59e-19},{"s":"t5","x":112.8,"v":1.58e-19},{"s":"t5","x":120,"v":2.0e-20},
{"s":"t6","x":50,"v":6.31e-10},{"s":"t6","x":52.9,"v":1.35e-10},{"s":"t6","x":56.6,"v":3.31e-11},{"s":"t6","x":59.7,"v":1.0e-11},{"s":"t6","x":64.1,"v":9.55e-13},{"s":"t6","x":65.9,"v":5.37e-13},{"s":"t6","x":68.7,"v":2.82e-13},{"s":"t6","x":71.5,"v":1.32e-13},{"s":"t6","x":73.4,"v":5.62e-14},{"s":"t6","x":79.4,"v":7.08e-15},{"s":"t6","x":85.0,"v":7.08e-16},{"s":"t6","x":89.1,"v":1.74e-16},{"s":"t6","x":95.2,"v":1.82e-17},{"s":"t6","x":100.7,"v":5.01e-18},{"s":"t6","x":107.7,"v":7.24e-19},{"s":"t6","x":112.8,"v":1.51e-19},{"s":"t6","x":120,"v":2.09e-20}
],
"infR":[
{"s":"gₛ(t = ∞)","x":50,"v":1.0e-2},{"s":"gₛ(t = ∞)","x":60.35,"v":8.13e-3},{"s":"gₛ(t = ∞)","x":67.3,"v":6.46e-4},{"s":"gₛ(t = ∞)","x":71.5,"v":2.82e-4},{"s":"gₛ(t = ∞)","x":74.7,"v":6.46e-5},{"s":"gₛ(t = ∞)","x":81.2,"v":7.94e-6},{"s":"gₛ(t = ∞)","x":84.5,"v":1.45e-6},{"s":"gₛ(t = ∞)","x":89.6,"v":3.39e-7},{"s":"gₛ(t = ∞)","x":94.7,"v":4.07e-8},{"s":"gₛ(t = ∞)","x":100.3,"v":1.45e-8},{"s":"gₛ(t = ∞)","x":106.3,"v":2.14e-9},{"s":"gₛ(t = ∞)","x":112.1,"v":3.72e-10}
]
},
"layer":[
 {"layer":[
  {"data":{"values":[{"x":50}]},"mark":{"type":"rule","color":"#c8c8c8","strokeWidth":1.2,"strokeDash":[8,3,1.5,3]},
   "encoding":{"x":{"field":"x","type":"quantitative","scale":{"domain":[0,50,120],"range":[0,520,1041],"nice":false,"zero":false},"axis":{"values":[0,10,20,30,40,50,60,70,80,90,100,110,120],"format":"d","title":"Electron Kinetic Energy (eV)","titleFontSize":26.3,"titlePadding":4}}}},
  {"data":{"name":"gsL"},"mark":{"type":"line","strokeWidth":3.5,"strokeJoin":"round","clip":true},
   "encoding":{"x":{"field":"x","type":"quantitative","scale":{"domain":[0,50,120],"range":[0,520,1041],"nice":false,"zero":false},"axis":{"values":[0,10,20,30,40,50,60,70,80,90,100,110,120],"format":"d","title":"Electron Kinetic Energy (eV)","titleFontSize":26.3,"titlePadding":4}},
    "y":{"field":"v","type":"quantitative","scale":{"domain":[-0.0061,0.16],"nice":false,"zero":false},"axis":{"orient":"left","values":[0,0.02,0.04,0.06,0.08,0.1,0.12,0.14,0.16],"format":".2f","title":"Electron Energy Density (1/eV)","titlePadding":6}},
    "stroke":{"field":"s","type":"nominal","scale":{"domain":["0.0709 ps","0.213 ps","0.425 ps","0.85 ps","1.7 ps","2.55 ps"],"range":["#49006a","#7a0177","#ae017e","#dd3497","#f56ea5","#f9a3b8"]},
      "legend":{"title":"gₛ","orient":"none","legendX":282,"legendY":12,"strokeColor":"#d5d5d5","cornerRadius":4,"padding":8,"fillColor":"white","symbolType":"M-1.27,0H2.47","symbolSize":900,"symbolStrokeWidth":3.5,"labelFontSize":26,"labelOffset":42.5,"titleFontSize":26,"titleFontStyle":"italic","titleFontWeight":"normal","titleAnchor":"middle","rowPadding":8.7,"titlePadding":7.5}}}},
  {"data":{"name":"geL"},"mark":{"type":"line","strokeWidth":3.5,"strokeJoin":"round","clip":true},
   "encoding":{"x":{"field":"x","type":"quantitative","scale":{"domain":[0,50,120],"range":[0,520,1041],"nice":false,"zero":false},"axis":{"values":[0,10,20,30,40,50,60,70,80,90,100,110,120],"format":"d","title":"Electron Kinetic Energy (eV)","titleFontSize":26.3,"titlePadding":4}},
    "y":{"field":"v","type":"quantitative","scale":{"domain":[-0.0061,0.16],"nice":false,"zero":false},"axis":{"orient":"left","values":[0,0.02,0.04,0.06,0.08,0.1,0.12,0.14,0.16],"format":".2f","title":"Electron Energy Density (1/eV)","titlePadding":6}},
    "color":{"field":"s","type":"nominal","scale":{"domain":["t1","t2","t3","t4","t5","t6"],"range":["#0b3b7b","#1562a9","#3986c2","#5ca4d4","#8dc0df","#b8d5eb"]},
      "legend":{"title":"gₑ","orient":"none","legendX":221,"legendY":20,"padding":0,"symbolType":"M-1.13,0H2.6","symbolSize":900,"symbolStrokeWidth":3.5,"labelExpr":"''","labelOffset":40,"labelFontSize":26,"titleFontSize":26,"titleFontStyle":"italic","titleFontWeight":"normal","titleAnchor":"middle","titleAlign":"center","rowPadding":8.7,"titlePadding":7.5}}}},
  {"data":{"name":"infL"},"mark":{"type":"line","strokeWidth":3.5,"color":"#ff6347","clip":true},
   "encoding":{"x":{"field":"x","type":"quantitative","scale":{"domain":[0,50,120],"range":[0,520,1041],"nice":false,"zero":false},"axis":{"values":[0,10,20,30,40,50,60,70,80,90,100,110,120],"format":"d","title":"Electron Kinetic Energy (eV)","titleFontSize":26.3,"titlePadding":4}},
    "y":{"field":"v","type":"quantitative","scale":{"domain":[-0.0061,0.16],"nice":false,"zero":false},"axis":{"orient":"left","values":[0,0.02,0.04,0.06,0.08,0.1,0.12,0.14,0.16],"format":".2f","title":"Electron Energy Density (1/eV)","titlePadding":6}},
    "strokeDash":{"field":"s","type":"nominal","scale":{"domain":["gₛ(t = ∞)"],"range":[[12,5]]},
      "legend":{"title":null,"orient":"none","legendX":300,"legendY":308,"strokeColor":"#d5d5d5","cornerRadius":4,"padding":8.5,"fillColor":"white","symbolType":"M-0.93,0H2.53","symbolSize":900,"symbolStrokeWidth":3.5,"symbolStrokeColor":"#ff6347","labelFontSize":26,"labelOffset":42}}}}
 ]},
 {"layer":[
  {"data":{"name":"gsR"},"mark":{"type":"line","strokeWidth":3.5,"strokeJoin":"round","clip":true},
   "encoding":{"x":{"field":"x","type":"quantitative","scale":{"domain":[0,50,120],"range":[0,520,1041],"nice":false,"zero":false},"axis":{"values":[0,10,20,30,40,50,60,70,80,90,100,110,120],"format":"d","title":"Electron Kinetic Energy (eV)","titleFontSize":26.3,"titlePadding":4}},
    "y":{"field":"v","type":"quantitative","scale":{"type":"log","domain":[1e-20,0.0129],"nice":false},"axis":{"orient":"right","values":[1e-2,1e-5,1e-8,1e-11,1e-14,1e-17,1e-20],"labelExpr":"datum.value > 1e-3 ? '10⁻²' : datum.value > 1e-6 ? '10⁻⁵' : datum.value > 1e-9 ? '10⁻⁸' : datum.value > 1e-12 ? '10⁻¹¹' : datum.value > 1e-15 ? '10⁻¹⁴' : datum.value > 1e-18 ? '10⁻¹⁷' : '10⁻²⁰'","title":null}},
    "stroke":{"field":"s","type":"nominal","scale":{"domain":["0.0709 ps","0.213 ps","0.425 ps","0.85 ps","1.7 ps","2.55 ps"],"range":["#49006a","#7a0177","#ae017e","#dd3497","#f56ea5","#f9a3b8"]},
      "legend":{"title":"gₛ","orient":"none","legendX":282,"legendY":12,"strokeColor":"#d5d5d5","cornerRadius":4,"padding":8,"fillColor":"white","symbolType":"M-1.27,0H2.47","symbolSize":900,"symbolStrokeWidth":3.5,"labelFontSize":26,"labelOffset":42.5,"titleFontSize":26,"titleFontStyle":"italic","titleFontWeight":"normal","titleAnchor":"middle","rowPadding":8.7,"titlePadding":7.5}}}},
  {"data":{"name":"geR"},"mark":{"type":"line","strokeWidth":3.5,"strokeJoin":"round","clip":true},
   "encoding":{"x":{"field":"x","type":"quantitative","scale":{"domain":[0,50,120],"range":[0,520,1041],"nice":false,"zero":false},"axis":{"values":[0,10,20,30,40,50,60,70,80,90,100,110,120],"format":"d","title":"Electron Kinetic Energy (eV)","titleFontSize":26.3,"titlePadding":4}},
    "y":{"field":"v","type":"quantitative","scale":{"type":"log","domain":[1e-20,0.0129],"nice":false},"axis":{"orient":"right","values":[1e-2,1e-5,1e-8,1e-11,1e-14,1e-17,1e-20],"labelExpr":"datum.value > 1e-3 ? '10⁻²' : datum.value > 1e-6 ? '10⁻⁵' : datum.value > 1e-9 ? '10⁻⁸' : datum.value > 1e-12 ? '10⁻¹¹' : datum.value > 1e-15 ? '10⁻¹⁴' : datum.value > 1e-18 ? '10⁻¹⁷' : '10⁻²⁰'","title":null}},
    "color":{"field":"s","type":"nominal","scale":{"domain":["t1","t2","t3","t4","t5","t6"],"range":["#0b3b7b","#1562a9","#3986c2","#5ca4d4","#8dc0df","#b8d5eb"]},
      "legend":{"title":"gₑ","orient":"none","legendX":221,"legendY":20,"padding":0,"symbolType":"M-1.13,0H2.6","symbolSize":900,"symbolStrokeWidth":3.5,"labelExpr":"''","labelOffset":40,"labelFontSize":26,"titleFontSize":26,"titleFontStyle":"italic","titleFontWeight":"normal","titleAnchor":"middle","titleAlign":"center","rowPadding":8.7,"titlePadding":7.5}}}},
  {"data":{"name":"infR"},"mark":{"type":"line","strokeWidth":3.5,"color":"#ff6347","clip":true},
   "encoding":{"x":{"field":"x","type":"quantitative","scale":{"domain":[0,50,120],"range":[0,520,1041],"nice":false,"zero":false},"axis":{"values":[0,10,20,30,40,50,60,70,80,90,100,110,120],"format":"d","title":"Electron Kinetic Energy (eV)","titleFontSize":26.3,"titlePadding":4}},
    "y":{"field":"v","type":"quantitative","scale":{"type":"log","domain":[1e-20,0.0129],"nice":false},"axis":{"orient":"right","values":[1e-2,1e-5,1e-8,1e-11,1e-14,1e-17,1e-20],"labelExpr":"datum.value > 1e-3 ? '10⁻²' : datum.value > 1e-6 ? '10⁻⁵' : datum.value > 1e-9 ? '10⁻⁸' : datum.value > 1e-12 ? '10⁻¹¹' : datum.value > 1e-15 ? '10⁻¹⁴' : datum.value > 1e-18 ? '10⁻¹⁷' : '10⁻²⁰'","title":null}},
    "strokeDash":{"field":"s","type":"nominal","scale":{"domain":["gₛ(t = ∞)"],"range":[[12,5]]},
      "legend":{"title":null,"orient":"none","legendX":300,"legendY":308,"strokeColor":"#d5d5d5","cornerRadius":4,"padding":8.5,"fillColor":"white","symbolType":"M-0.93,0H2.53","symbolSize":900,"symbolStrokeWidth":3.5,"symbolStrokeColor":"#ff6347","labelFontSize":26,"labelOffset":42}}}}
 ]}
],
"resolve":{"scale":{"y":"independent"}}
}
